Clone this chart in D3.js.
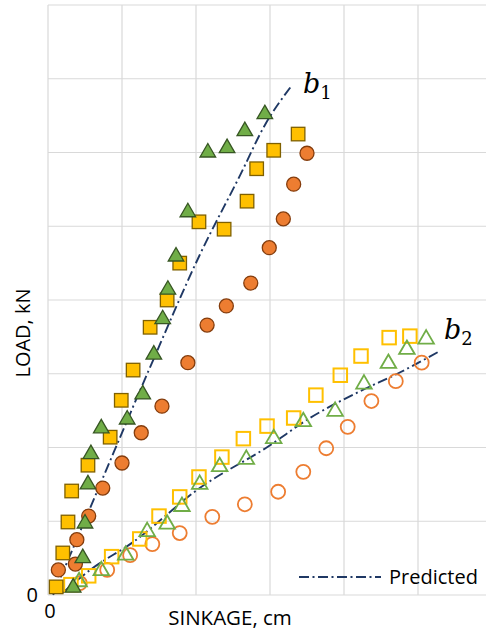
<!DOCTYPE html>
<html>
<head>
<meta charset="utf-8">
<script src="https://cdn.jsdelivr.net/npm/d3@7"></script>
<style>
  html, body { margin: 0; padding: 0; background: #fff; }
  svg { display: block; }
</style>
</head>
<body>
<svg id="chart" width="486" height="635"></svg>
<script>
// ---- data (grid units) ----
const xTicks = [0, 1, 2, 3, 4, 5, 6];
const yTicks = [0, 1, 2, 3, 4, 5, 6, 7, 8];

// b1 (filled markers)
const b1Squares = [[0.11,0.11],[0.20,0.57],[0.27,0.99],[0.32,1.41],[0.54,1.76],[0.84,2.14],[0.99,2.64],[1.15,3.05],[1.38,3.63],[1.61,4.00],[1.78,4.50],[2.04,5.06],[2.38,4.96],[2.69,5.34],[2.82,5.78],[3.05,6.03],[3.38,6.25]];
const b1Triangles = [[0.34,0.12],[0.47,0.52],[0.50,0.99],[0.54,1.52],[0.58,1.93],[0.72,2.28],[1.07,2.40],[1.28,2.74],[1.43,3.28],[1.55,3.76],[1.62,4.16],[1.73,4.61],[1.89,5.21],[2.16,6.02],[2.42,6.08],[2.66,6.31],[2.93,6.54]];
const b1Circles = [[0.14,0.34],[0.37,0.42],[0.39,0.75],[0.55,1.07],[0.74,1.45],[1.00,1.79],[1.26,2.20],[1.54,2.56],[1.89,3.15],[2.15,3.66],[2.41,3.92],[2.74,4.23],[2.99,4.71],[3.18,5.10],[3.32,5.57],[3.50,5.99]];
const b1Predicted = [[0.07,0.00],[0.70,1.49],[1.38,3.09],[2.05,4.61],[2.60,5.70],[2.93,6.37],[3.28,6.89]];

// b2 (open markers)
const b2Squares = [[0.31,0.14],[0.55,0.26],[0.86,0.52],[1.24,0.76],[1.50,1.07],[1.78,1.33],[2.04,1.60],[2.35,1.87],[2.64,2.12],[2.96,2.29],[3.32,2.40],[3.62,2.71],[3.95,2.98],[4.23,3.24],[4.61,3.49],[4.89,3.51]];
const b2Triangles = [[0.42,0.20],[0.72,0.35],[1.05,0.56],[1.34,0.88],[1.61,0.98],[1.81,1.22],[2.05,1.52],[2.32,1.76],[2.68,1.86],[3.05,2.14],[3.45,2.37],[3.88,2.51],[4.27,2.88],[4.60,3.16],[4.85,3.35],[5.11,3.49]];
const b2Circles = [[0.43,0.16],[0.80,0.34],[1.11,0.54],[1.41,0.69],[1.78,0.84],[2.22,1.06],[2.66,1.23],[3.11,1.40],[3.45,1.67],[3.76,1.99],[4.05,2.28],[4.37,2.63],[4.70,2.90],[5.05,3.15]];
const b2Predicted = [[0.20,0.03],[0.57,0.34],[1.14,0.71],[2.05,1.45],[2.97,2.01],[3.54,2.40],[4.19,2.75],[4.76,3.02],[5.28,3.30]];

const xTitle = "SINKAGE, cm";
const yTitle = "LOAD, kN";
const legendLabel = "Predicted";

// ---- layout ----
const svg = d3.select("#chart");
const x = d3.scaleLinear().domain([0, 6]).range([48, 492]);
const y = d3.scaleLinear().domain([0, 8]).range([595, 5]);

const FONT = "'Open Sans', 'Noto Sans', sans-serif";
const grid = "#d9d9d9";

// gridlines
svg.append("g").selectAll("line").data(xTicks).join("line")
  .attr("x1", d => x(d)).attr("x2", d => x(d))
  .attr("y1", y(8)).attr("y2", y(0))
  .attr("stroke", grid).attr("stroke-width", 1.2);
svg.append("g").selectAll("line").data(yTicks).join("line")
  .attr("x1", x(0)).attr("x2", 486)
  .attr("y1", d => y(d)).attr("y2", d => y(d))
  .attr("stroke", grid).attr("stroke-width", 1.2);

// zero labels
svg.append("text").attr("x", 38).attr("y", y(0) + 7)
  .attr("text-anchor", "end").attr("font-family", FONT).attr("font-size", 20)
  .attr("fill", "#000").text("0");
svg.append("text").attr("x", x(0) + 2).attr("y", 618)
  .attr("text-anchor", "middle").attr("font-family", FONT).attr("font-size", 20)
  .attr("fill", "#000").text("0");

// axis titles
svg.append("text").attr("x", 230).attr("y", 625)
  .attr("text-anchor", "middle").attr("font-family", FONT).attr("font-size", 20.5)
  .attr("fill", "#000").text(xTitle);
svg.append("text").attr("transform", "translate(30,333) rotate(-90)")
  .attr("text-anchor", "middle").attr("font-family", FONT).attr("font-size", 20)
  .attr("fill", "#000").text(yTitle);

// predicted lines
const lineGen = d3.line().x(d => x(d[0])).y(d => y(d[1])).curve(d3.curveMonotoneX);
const DASH = "10,3.5,2,3.5";
const LINEC = "#1f3864";
[b1Predicted, b2Predicted].forEach(p => {
  svg.append("path").attr("d", lineGen(p))
    .attr("fill", "none").attr("stroke", LINEC).attr("stroke-width", 1.9)
    .attr("stroke-dasharray", DASH);
});

// markers
const S = 13.5;
function squares(data, fill, stroke, sw) {
  svg.append("g").selectAll("rect").data(data).join("rect")
    .attr("x", d => x(d[0]) - S / 2).attr("y", d => y(d[1]) - S / 2)
    .attr("width", S).attr("height", S)
    .attr("fill", fill).attr("stroke", stroke).attr("stroke-width", sw);
}
function circles(data, fill, stroke, sw) {
  svg.append("g").selectAll("circle").data(data).join("circle")
    .attr("cx", d => x(d[0])).attr("cy", d => y(d[1])).attr("r", 7)
    .attr("fill", fill).attr("stroke", stroke).attr("stroke-width", sw);
}
const tri = d3.symbol().type(d3.symbolTriangle).size(105);
function triangles(data, fill, stroke, sw) {
  svg.append("g").selectAll("path").data(data).join("path")
    .attr("d", tri)
    .attr("transform", d => `translate(${x(d[0])},${y(d[1]) + 1.5})`)
    .attr("fill", fill).attr("stroke", stroke).attr("stroke-width", sw);
}

// b2 open markers
circles(b2Circles, "none", "#ed7d31", 1.8);
squares(b2Squares, "none", "#ffc000", 2);
triangles(b2Triangles, "none", "#70ad47", 1.8);

// b1 filled markers
circles(b1Circles, "#ed7d31", "#843c0c", 1.3);
squares(b1Squares, "#ffc000", "#7f6000", 1.3);
triangles(b1Triangles, "#70ad47", "#375623", 1.3);

// series labels
function seriesLabel(px, py, sub) {
  const t = svg.append("text").attr("x", px).attr("y", py)
    .attr("font-family", "'DejaVu Serif', 'Liberation Serif', serif")
    .attr("font-style", "italic").attr("font-size", 27).attr("fill", "#000");
  t.append("tspan").text("b");
  t.append("tspan").attr("font-style", "normal").attr("font-size", 18).attr("dy", 6).text(sub);
}
seriesLabel(303, 93, "1");
seriesLabel(444, 339, "2");

// legend
svg.append("line").attr("x1", 299).attr("x2", 381).attr("y1", 577).attr("y2", 577)
  .attr("stroke", LINEC).attr("stroke-width", 1.9).attr("stroke-dasharray", DASH);
svg.append("text").attr("x", 389).attr("y", 584)
  .attr("font-family", FONT).attr("font-size", 20).attr("fill", "#000").text(legendLabel);
</script>
</body>
</html>
